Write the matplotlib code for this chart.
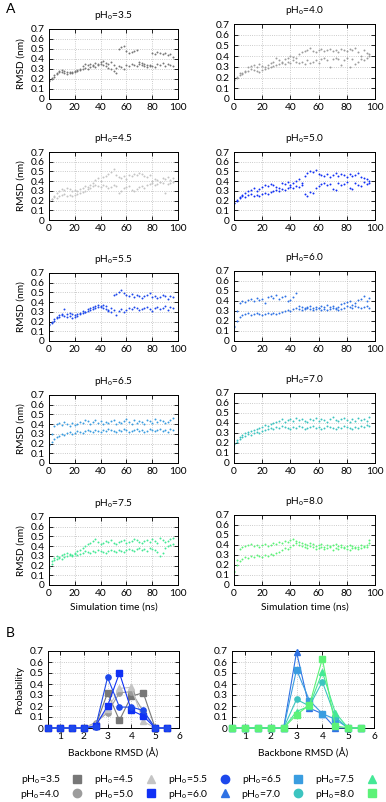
import numpy as np
import matplotlib.pyplot as plt
from matplotlib.lines import Line2D

plt.rcParams['font.family'] = ['Lato', 'DejaVu Sans']
plt.rcParams['mathtext.default'] = 'regular'
plt.rcParams['font.size'] = 7

# pH values and colours
ph_labels = ['3.5', '4.0', '4.5', '5.0', '5.5', '6.0', '6.5', '7.0', '7.5', '8.0']
colors = ['#777777', '#9c9c9c', '#c4c4c4', '#1030f5', '#1d48ec', '#2f72e4',
          '#3a9de0', '#3cc4c0', '#44e896', '#5cf278']
markers = ['s', 'o', '^', 's', 'o', '^', 's', 'o', '^', 's']

# RMSD traces (nm), sampled every 2 ns; two branches per run
rmsd_a = {
    '3.5': [.18, .20, .22, .25, .27, .29, .28, .27, .26, .27, .28, .29, .30, .33, .35, .34, .35,
            .34, .36, .35, .37, .38, .36, .35, .37, .34, .31, .50, .52, .53, .48, .46, .47, .48,
            .49, .37, .36, .35, .34, .33, .46, .45, .47, .46, .45, .46, .44, .45, .42],
    '4.0': [.18, .20, .22, .24, .26, .30, .31, .32, .30, .33, .31, .30, .32, .34, .35, .38, .36,
            .35, .37, .38, .40, .39, .38, .42, .44, .45, .46, .48, .45, .44, .46, .47, .45, .46,
            .47, .45, .46, .44, .47, .46, .45, .47, .46, .48, .44, .40, .46, .43, .42],
    '4.5': [.20, .22, .25, .28, .30, .32, .31, .33, .32, .30, .31, .30, .32, .33, .35, .34, .36,
            .38, .41, .43, .40, .44, .45, .47, .49, .52, .46, .44, .43, .45, .42, .46, .45, .47,
            .46, .48, .47, .45, .44, .46, .40, .42, .41, .39, .43, .42, .44, .41, .43],
    '5.0': [.18, .21, .24, .26, .28, .30, .31, .33, .30, .32, .34, .36, .35, .37, .36, .34, .33,
            .38, .37, .39, .36, .38, .40, .42, .38, .45, .48, .50, .49, .51, .47, .46, .45, .47,
            .44, .46, .48, .45, .47, .46, .44, .47, .45, .46, .48, .44, .43, .42, .40],
    '5.5': [.18, .20, .23, .25, .27, .28, .33, .28, .29, .28, .27, .28, .29, .31, .30, .33, .34,
            .35, .36, .37, .35, .37, .36, .32, .34, .47, .48, .50, .52, .49, .47, .46, .48, .45,
            .47, .46, .44, .46, .47, .49, .45, .46, .44, .45, .47, .46, .43, .46, .45],
    '6.0': [.15, .30, .38, .40, .39, .41, .42, .40, .43, .41, .42, .38, .44, .45, .43, .46, .42,
            .44, .45, .40, .41, .44, .48, .35, .34, .33, .34, .35, .33, .34, .33, .35, .34, .36,
            .34, .35, .33, .34, .37, .38, .39, .40, .36, .38, .41, .42, .45, .40, .43],
    '6.5': [.20, .30, .38, .40, .41, .39, .42, .40, .38, .41, .39, .40, .42, .41, .44, .43, .40,
            .42, .44, .41, .43, .40, .42, .41, .43, .44, .40, .42, .41, .43, .45, .42, .40, .44,
            .41, .43, .42, .40, .44, .43, .41, .45, .42, .44, .43, .41, .42, .44, .46],
    '7.0': [.20, .23, .26, .28, .30, .31, .32, .33, .34, .35, .36, .38, .37, .39, .40, .41, .42,
            .44, .41, .43, .44, .42, .45, .43, .44, .42, .41, .44, .43, .45, .42, .44, .43, .41,
            .44, .46, .43, .42, .44, .45, .43, .41, .44, .42, .45, .43, .44, .42, .46],
    '7.5': [.20, .25, .28, .30, .29, .31, .32, .33, .32, .31, .33, .35, .36, .38, .40, .42, .43,
            .45, .47, .44, .42, .43, .45, .44, .46, .43, .42, .44, .45, .46, .43, .44, .45, .47,
            .46, .44, .43, .45, .46, .44, .47, .45, .43, .48, .46, .44, .45, .47, .48],
    '8.0': [.14, .25, .36, .38, .39, .40, .41, .39, .40, .38, .40, .41, .39, .40, .42, .41, .43,
            .42, .44, .43, .45, .46, .44, .43, .42, .41, .40, .42, .41, .39, .40, .41, .38, .40,
            .39, .40, .41, .39, .40, .38, .39, .40, .39, .37, .38, .40, .39, .38, .42],
}
rmsd_b = {
    '3.5': [.19, .21, .24, .26, .28, .27, .26, .25, .27, .26, .27, .28, .29, .30, .31, .30, .32,
            .33, .32, .34, .35, .34, .33, .31, .30, .28, .26, .33, .32, .30, .34, .33, .35, .34,
            .33, .35, .34, .33, .32, .34, .33, .32, .35, .34, .36, .33, .35, .34, .33],
    '4.0': [.19, .21, .24, .23, .25, .26, .28, .27, .26, .25, .27, .28, .29, .30, .31, .32, .33,
            .34, .33, .35, .34, .36, .35, .34, .35, .33, .36, .34, .35, .36, .34, .37, .38, .36,
            .30, .37, .38, .37, .32, .36, .38, .30, .37, .33, .35, .37, .36, .38, .40],
    '4.5': [.21, .22, .24, .23, .25, .26, .27, .25, .26, .25, .26, .27, .28, .29, .30, .32, .33,
            .35, .36, .35, .34, .36, .35, .33, .34, .36, .35, .28, .30, .33, .34, .35, .31, .30,
            .32, .34, .35, .33, .36, .37, .38, .36, .37, .39, .38, .28, .37, .38, .39],
    '5.0': [.17, .20, .23, .25, .24, .26, .27, .25, .26, .25, .27, .28, .27, .29, .30, .31, .30,
            .32, .31, .33, .34, .33, .35, .34, .36, .27, .25, .29, .28, .33, .35, .37, .38, .36,
            .37, .32, .31, .38, .36, .37, .39, .33, .32, .38, .36, .35, .39, .37, .38],
    '5.5': [.16, .19, .21, .24, .25, .27, .26, .25, .26, .24, .25, .26, .28, .29, .30, .31, .32,
            .33, .34, .35, .36, .34, .33, .31, .30, .32, .27, .31, .33, .30, .32, .34, .33, .35,
            .34, .32, .33, .34, .35, .33, .31, .34, .35, .33, .34, .36, .32, .35, .34],
    '6.0': [.14, .20, .24, .26, .27, .28, .26, .27, .28, .27, .26, .27, .28, .27, .28, .27, .28,
            .29, .30, .31, .30, .32, .33, .32, .31, .32, .33, .32, .31, .32, .33, .31, .32, .31,
            .32, .33, .32, .31, .32, .33, .35, .34, .33, .35, .34, .33, .34, .35, .33],
    '6.5': [.19, .22, .25, .27, .28, .30, .29, .31, .32, .30, .31, .33, .32, .31, .33, .34, .33,
            .32, .34, .33, .32, .34, .33, .35, .34, .33, .32, .34, .33, .35, .34, .32, .33, .34,
            .35, .33, .34, .32, .33, .35, .34, .33, .34, .35, .33, .34, .32, .35, .34],
    '7.0': [.19, .21, .24, .26, .27, .29, .28, .30, .31, .30, .32, .33, .34, .35, .34, .36, .35,
            .37, .36, .35, .34, .36, .35, .37, .36, .34, .35, .36, .37, .35, .36, .34, .35, .37,
            .36, .35, .34, .36, .35, .37, .36, .35, .34, .36, .35, .37, .36, .38, .37],
    '7.5': [.18, .22, .26, .27, .28, .27, .29, .30, .31, .30, .32, .31, .32, .33, .35, .34, .33,
            .35, .34, .36, .35, .34, .33, .35, .36, .35, .34, .36, .35, .34, .36, .37, .36, .35,
            .37, .38, .36, .37, .35, .38, .37, .36, .34, .30, .33, .38, .40, .41, .42],
    '8.0': [.13, .20, .24, .26, .28, .27, .29, .28, .30, .29, .28, .30, .29, .31, .30, .32, .33,
            .35, .37, .36, .38, .40, .42, .40, .39, .38, .37, .39, .38, .36, .37, .38, .36, .37,
            .38, .35, .37, .36, .38, .37, .36, .35, .37, .38, .36, .37, .38, .40, .45],
}

# RMSD distributions (panel B)
bins = [0.5, 1.0, 1.5, 2.0, 2.5, 3.0, 3.5, 4.0, 4.5, 5.0, 5.5]
prob = {
    '3.5': [0, 0, 0, 0, .02, .32, .07, .29, .32, 0, 0],
    '4.0': [0, 0, 0, 0, .05, .14, .32, .33, .15, 0, 0],
    '4.5': [0, 0, 0, 0, .04, .17, .36, .37, .06, 0, 0],
    '5.0': [0, 0, 0, 0, .02, .20, .50, .16, .11, 0, 0],
    '5.5': [0, 0, 0, 0, .01, .46, .19, .19, .16, 0, 0],
    '6.0': [0, 0, 0, 0, 0, .69, .18, .13, 0, 0, 0],
    '6.5': [0, 0, 0, 0, 0, .53, .25, .13, .08, 0, 0],
    '7.0': [0, 0, 0, 0, 0, .26, .20, .42, .10, 0, 0],
    '7.5': [0, 0, 0, 0, 0, .15, .20, .51, .14, 0, 0],
    '8.0': [0, 0, 0, 0, 0, .12, .21, .63, .02, 0, 0],
}

W, H = 386, 802
fig = plt.figure(figsize=(W / 100, H / 100), dpi=100)


def box(x0, y0, x1, y1):
    return [x0 / W, 1 - y1 / H, (x1 - x0) / W, (y1 - y0) / H]


def style(ax):
    ax.set_ylim(0, 0.7)
    ax.set_yticks(np.arange(0, 0.71, 0.1))
    ax.set_yticklabels(['0'] + ['%.1f' % v for v in np.arange(0.1, 0.71, 0.1)])
    ax.tick_params(direction='in', top=True, right=True, length=3, width=0.6, pad=3,
                   labelsize=7.3)
    ax.grid(True, ls=':', lw=0.6, color='#bbbbbb')
    ax.set_axisbelow(True)
    for s in ax.spines.values():
        s.set_linewidth(0.7)


left_x = (49, 178)
right_x = (234, 375)
tops = [29, 152, 273, 395, 517]
bots = [99, 220, 341, 463, 585]
tops_r = [24, 152, 271, 393, 515]

for i, ph in enumerate(ph_labels):
    row, col = i // 2, i % 2
    if col == 0:
        ax = fig.add_axes(box(left_x[0], tops[row], left_x[1], bots[row]))
    else:
        ax = fig.add_axes(box(right_x[0], tops_r[row], right_x[1], bots[row]))
    for vals in (rmsd_a[ph], rmsd_b[ph]):
        t = np.arange(len(vals)) * 2
        ax.plot(t, vals, '.', ms=2.8, color=colors[i], mew=0)
    ax.set_xlim(0, 100)
    ax.set_xticks(range(0, 101, 20))
    style(ax)
    ax.set_title('pH$_{o}$=' + ph, fontsize=7.3, pad=8)
    if col == 0:
        ax.set_ylabel('RMSD (nm)', fontsize=7.3, labelpad=4)
    if row == 4:
        ax.set_xlabel('Simulation time (ns)', fontsize=7.3, labelpad=3)

fig.text(6 / W, 1 - 9 / H, 'A', fontsize=10, va='center', ha='left')
fig.text(6 / W, 1 - 633 / H, 'B', fontsize=10, va='center', ha='left')

groups = [ph_labels[:5], ph_labels[5:]]
xs = [(48, 179), (232, 374)]
for g, grp in enumerate(groups):
    ax = fig.add_axes(box(xs[g][0], 651, xs[g][1], 728))
    for ph in grp:
        i = ph_labels.index(ph)
        ax.plot(bins, prob[ph], '-', marker=markers[i], color=colors[i], lw=0.8,
                ms=3.8, clip_on=False, zorder=3)
    ax.set_xlim(0.5, 6)
    ax.set_xticks(range(1, 7))
    style(ax)
    ax.set_xlabel('Backbone RMSD (Å)', fontsize=7.3, labelpad=5)
    if g == 0:
        ax.set_ylabel('Probability', fontsize=7.3, labelpad=4)

handles = [Line2D([], [], ls='none', marker=markers[i], color=colors[i], ms=6)
           for i in range(len(ph_labels))]
labels = ['pH$_{o}$=' + ph for ph in ph_labels]
fig.legend(handles, labels, ncol=5, markerfirst=False, loc='center',
           bbox_to_anchor=(0.515, 1 - 787 / H), frameon=False, fontsize=7.5,
           handlelength=1.0, handletextpad=1.1, columnspacing=1.1, labelspacing=0.1)

fig.savefig('out.png', dpi=100)
